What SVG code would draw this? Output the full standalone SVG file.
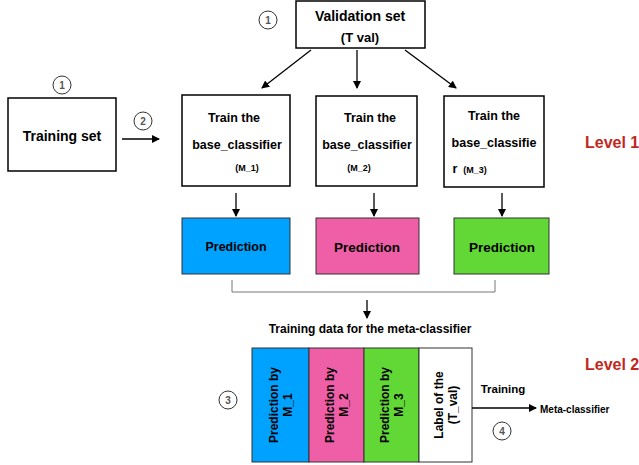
<svg xmlns="http://www.w3.org/2000/svg" width="639" height="465" viewBox="0 0 639 465">
<defs>
<marker id="ah" markerWidth="8" markerHeight="8" refX="7" refY="4" orient="auto" markerUnits="userSpaceOnUse">
<path d="M0,0 L8,4 L0,8 Z" fill="#000"/>
</marker>
<style>
.box{fill:#fff;stroke:#000;stroke-width:1.5}
.t{font-family:"Liberation Sans",Arial,sans-serif;font-weight:bold;fill:#000;text-anchor:middle}
.circ{fill:#fff;stroke:#333;stroke-width:1}
.ct{font-family:"Liberation Sans",Arial,sans-serif;font-weight:bold;font-size:10px;fill:#555;text-anchor:middle}
.lvl{font-family:"Liberation Sans",Arial,sans-serif;font-weight:bold;font-size:16px;fill:#C0281E}
.ln{stroke:#000;stroke-width:1.3;fill:none;marker-end:url(#ah)}
</style>
</defs>
<rect width="639" height="465" fill="#fff"/>

<g id="validation">
<rect class="box" x="296" y="1" width="129" height="47"/>
<text class="t" x="360" y="21" font-size="14">Validation set</text>
<text class="t" x="360" y="42" font-size="13">(T  val)</text>
</g>
<g id="step1a"><circle class="circ" cx="268" cy="20" r="9"/><text class="ct" x="268" y="24">1</text></g>

<g id="training">
<rect class="box" x="8" y="98" width="108" height="73"/>
<text class="t" x="62" y="141" font-size="14">Training set</text>
</g>
<g id="step1b"><circle class="circ" cx="62" cy="85" r="9"/><text class="ct" x="62" y="89">1</text></g>
<g id="step2"><circle class="circ" cx="143" cy="121" r="9"/><text class="ct" x="143" y="125">2</text></g>

<g id="train1">
<rect class="box" x="182" y="95" width="108" height="91"/>
<text class="t" x="234" y="122" font-size="12.5">Train the</text>
<text class="t" x="237" y="149" font-size="12.5">base_classifier</text>
<text class="t" x="247" y="171" font-size="9">(M_1)</text>
</g>
<g id="train2">
<rect class="box" x="316" y="96" width="101" height="90"/>
<text class="t" x="370" y="122" font-size="12.5">Train the</text>
<text class="t" x="367" y="149" font-size="12.5">base_classifier</text>
<text class="t" x="359" y="171" font-size="9">(M_2)</text>
</g>
<g id="train3">
<rect class="box" x="444" y="96" width="100" height="91"/>
<text class="t" x="494" y="120" font-size="12.5">Train the</text>
<text class="t" x="494" y="147" font-size="12.5">base_classifie</text>
<text class="t" x="455" y="173" font-size="12.5">r</text>
<text class="t" x="475" y="173" font-size="9">(M_3)</text>
</g>

<g id="pred1">
<rect x="182" y="218" width="108" height="56" fill="#00A2FF" stroke="#333" stroke-width="1"/>
<text class="t" x="236" y="251" font-size="12.5">Prediction</text>
</g>
<g id="pred2">
<rect x="316" y="218" width="103" height="56" fill="#EF5FA7" stroke="#333" stroke-width="1"/>
<text class="t" x="367" y="252" font-size="13.5">Prediction</text>
</g>
<g id="pred3">
<rect x="454" y="218" width="95" height="56" fill="#61D836" stroke="#333" stroke-width="1"/>
<text class="t" x="502" y="252" font-size="13.5">Prediction</text>
</g>

<g id="tdlabel"><text class="t" x="370" y="333" font-size="12">Training data for the meta-classifier</text></g>

<g id="col1">
<rect x="252" y="348" width="57" height="114" fill="#00A2FF" stroke="#333" stroke-width="1"/>
<text class="t" font-size="12" transform="translate(280.5,405) rotate(-90)"><tspan x="0" y="-3">Prediction by</tspan><tspan x="0" y="11">M_1</tspan></text>
</g>
<g id="col2">
<rect x="309" y="348" width="55" height="114" fill="#EF5FA7" stroke="#333" stroke-width="1"/>
<text class="t" font-size="12" transform="translate(336.5,405) rotate(-90)"><tspan x="0" y="-3">Prediction by</tspan><tspan x="0" y="11">M_2</tspan></text>
</g>
<g id="col3">
<rect x="364" y="348" width="55" height="114" fill="#61D836" stroke="#333" stroke-width="1"/>
<text class="t" font-size="12" transform="translate(391.5,405) rotate(-90)"><tspan x="0" y="-3">Prediction by</tspan><tspan x="0" y="11">M_3</tspan></text>
</g>
<g id="col4">
<rect x="419" y="348" width="53" height="114" fill="#fff" stroke="#333" stroke-width="1"/>
<text class="t" font-size="12" transform="translate(445.5,405) rotate(-90)"><tspan x="0" y="-3">Label of the</tspan><tspan x="0" y="11">(T_val)</tspan></text>
</g>
<g id="step3"><circle class="circ" cx="228" cy="400" r="9"/><text class="ct" x="228" y="404">3</text></g>
<g id="step4"><circle class="circ" cx="502" cy="431" r="9"/><text class="ct" x="502" y="435">4</text></g>

<g id="meta"><text class="t" x="540" y="413" font-size="10" style="text-anchor:start">Meta-classifier</text></g>
<g id="trainlbl"><text class="t" x="503" y="393" font-size="11.5">Training</text></g>

<g id="level1"><text class="lvl" x="585" y="148">Level 1</text></g>
<g id="level2"><text class="lvl" x="585" y="370">Level 2</text></g>

<g id="connectors">
<line class="ln" x1="311" y1="50" x2="262" y2="88"/>
<line class="ln" x1="357" y1="50" x2="357" y2="88"/>
<line class="ln" x1="405" y1="50" x2="456" y2="88"/>
<line class="ln" x1="122" y1="139" x2="159" y2="139"/>
<line class="ln" x1="236" y1="193" x2="236" y2="216"/>
<line class="ln" x1="374" y1="193" x2="374" y2="216"/>
<line class="ln" x1="502" y1="193" x2="502" y2="216"/>
<path d="M232,280 V292 H495 V280" fill="none" stroke="#777" stroke-width="1"/>
<line class="ln" x1="367" y1="300" x2="367" y2="318"/>
<line class="ln" x1="472" y1="408" x2="536" y2="408"/>
</g>
</svg>
